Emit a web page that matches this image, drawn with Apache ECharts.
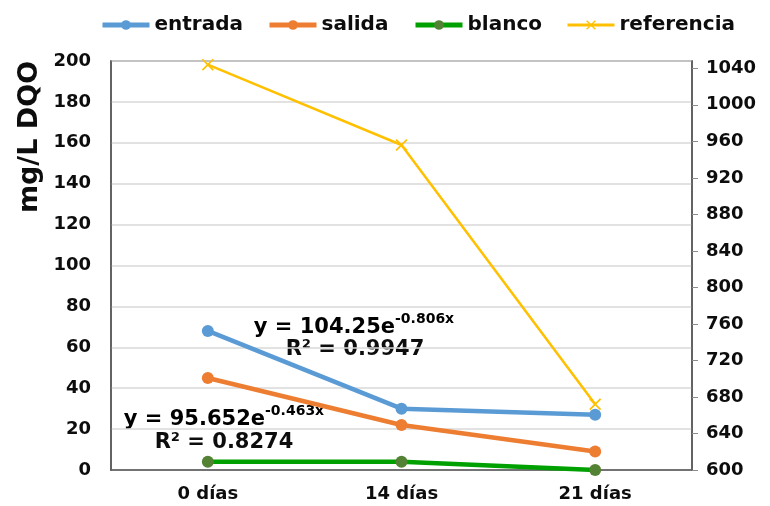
<!DOCTYPE html>
<html>
<head>
<meta charset="utf-8">
<script src="https://cdn.jsdelivr.net/npm/echarts@6/dist/echarts.min.js"></script>
<style>
  html, body { margin: 0; padding: 0; background: #fff; }
  #chart { width: 770px; height: 506px; }
</style>
</head>
<body>
<div id="chart"></div>
<script>
// Sampling days
const categories = ['0 días', '14 días', '21 días'];

// COD (mg/L) on the left axis
const entrada = [68, 30, 27];
const salida = [45, 22, 9];
const blanco = [4, 4, 0];

// Reference COD on the right axis
const referencia = [1044, 956, 672];

// Fitted trend equations
const fitSalida = { coef: '104.25', exp: '-0.806x', r2: '0.9947' };
const fitEntrada = { coef: '95.652', exp: '-0.463x', r2: '0.8274' };

const FONT = 'DejaVu Sans';
const TXT = '#0d0d0d';

const crossPath = 'path://M0,1 L1,0 L10,9 L9,10 Z M9,0 L10,1 L1,10 L0,9 Z';

const chart = echarts.init(document.getElementById('chart'), null, { renderer: 'canvas' });

function eqText(f) {
  return '{b|y = ' + f.coef + 'e}{s|' + f.exp + '}';
}
const richEq = {
  b: { fontFamily: FONT, fontWeight: 'bold', fontSize: 21, color: TXT, lineHeight: 26, verticalAlign: 'bottom' },
  s: { fontFamily: FONT, fontWeight: 'bold', fontSize: 14, color: TXT, lineHeight: 26, verticalAlign: 'top', padding: [0, 0, 8, 0] }
};

// One legend entry per block so each key sits at its own spot along the top
function legendAt(left, name, line, dot) {
  return {
    left: left,
    top: 15,
    padding: 0,
    itemWidth: 47,
    itemHeight: 12,
    textStyle: { fontFamily: FONT, fontWeight: 'bold', fontSize: 20, color: TXT },
    data: [{
      name: name,
      lineStyle: { color: line, width: name === 'referencia' ? 3 : 5 },
      itemStyle: { color: dot }
    }]
  };
}

chart.setOption({
  animation: false,
  backgroundColor: '#ffffff',
  textStyle: { fontFamily: FONT },
  legend: [
    legendAt(100, 'entrada', '#5b9bd5', '#5b9bd5'),
    legendAt(267, 'salida', '#ed7d31', '#ed7d31'),
    legendAt(413, 'blanco', '#00a000', '#548235'),
    legendAt(566, 'referencia', '#ffc000', '#ffc000')
  ],
  grid: {
    left: 111, right: 78, top: 61, bottom: 36,
    show: true, borderColor: '#595959', borderWidth: 1.5, backgroundColor: 'transparent'
  },
  xAxis: {
    type: 'category',
    data: categories,
    boundaryGap: true,
    axisLine: { lineStyle: { color: '#595959', width: 1.5 } },
    axisTick: { show: false },
    axisLabel: { fontFamily: FONT, fontWeight: 'bold', fontSize: 18, color: TXT, margin: 15 }
  },
  yAxis: [
    {
      type: 'value', min: 0, max: 200, interval: 20, position: 'left',
      axisLine: { show: true, lineStyle: { color: '#595959', width: 1.5 } },
      axisTick: { show: false },
      splitLine: { lineStyle: { color: '#d9d9d9', width: 1.5 } },
      axisLabel: { fontFamily: FONT, fontWeight: 'bold', fontSize: 18, color: TXT, margin: 20 }
    },
    {
      type: 'value', min: 600, max: 1048, interval: 40, position: 'right',
      axisLine: { show: true, lineStyle: { color: '#595959', width: 1.5 } },
      axisTick: { show: true, length: 6, lineStyle: { color: '#8c8c8c' } },
      splitLine: { show: false },
      axisLabel: {
        fontFamily: FONT, fontWeight: 'bold', fontSize: 18, color: TXT, margin: 14, showMaxLabel: false,
        formatter: (v) => String(v)
      }
    }
  ],
  series: [
    {
      name: 'entrada', type: 'line', data: entrada, yAxisIndex: 0,
      symbol: 'circle', symbolSize: 12, clip: false,
      lineStyle: { color: '#5b9bd5', width: 4.5 },
      itemStyle: { color: '#5b9bd5' }
    },
    {
      name: 'salida', type: 'line', data: salida, yAxisIndex: 0,
      symbol: 'circle', symbolSize: 12, clip: false,
      lineStyle: { color: '#ed7d31', width: 4.5 },
      itemStyle: { color: '#ed7d31' }
    },
    {
      name: 'blanco', type: 'line', data: blanco, yAxisIndex: 0,
      symbol: 'circle', symbolSize: 12, clip: false,
      lineStyle: { color: '#00a000', width: 4.5 },
      itemStyle: { color: '#548235' }
    },
    {
      name: 'referencia', type: 'line', data: referencia, yAxisIndex: 1,
      symbol: crossPath, symbolSize: 12, clip: false,
      lineStyle: { color: '#ffc000', width: 2.5 },
      itemStyle: { color: '#ffc000' }
    }
  ],
  graphic: [
    {
      type: 'text', x: 30, y: 137, rotation: Math.PI / 2,
      style: { text: 'mg/L DQO', fontFamily: FONT, fontWeight: 'bold', fontSize: 27, fill: TXT, align: 'center', verticalAlign: 'middle' }
    },
    {
      type: 'text', x: 354, y: 325,
      style: { text: eqText(fitSalida), rich: richEq, align: 'center', verticalAlign: 'middle' }
    },
    {
      type: 'text', x: 355, y: 350,
      style: { text: 'R² = ' + fitSalida.r2, fontFamily: FONT, fontWeight: 'bold', fontSize: 21, fill: TXT, align: 'center', verticalAlign: 'middle' }
    },
    {
      type: 'text', x: 224, y: 417,
      style: { text: eqText(fitEntrada), rich: richEq, align: 'center', verticalAlign: 'middle' }
    },
    {
      type: 'text', x: 224, y: 443,
      style: { text: 'R² = ' + fitEntrada.r2, fontFamily: FONT, fontWeight: 'bold', fontSize: 21, fill: TXT, align: 'center', verticalAlign: 'middle' }
    }
  ]
});
</script>
</body>
</html>
